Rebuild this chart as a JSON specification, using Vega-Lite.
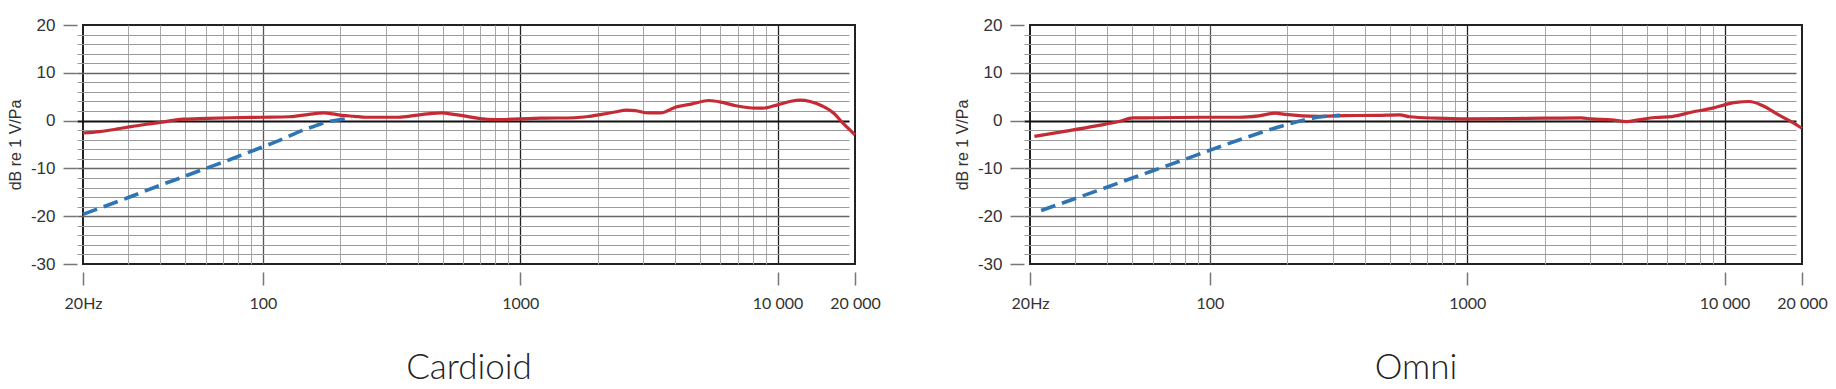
{
  "$schema": "https://vega.github.io/schema/vega-lite/v6.json",
  "background": "white",
  "padding": {"left": 6, "top": 15, "right": 5, "bottom": 0},
  "spacing": 175,
  "bounds": "flush",
  "data": {"values": [
    {"p": "C", "s": "r", "f": 20, "db": -2.6},
    {"p": "C", "s": "r", "f": 23.2, "db": -2.3},
    {"p": "C", "s": "r", "f": 26.9, "db": -1.8},
    {"p": "C", "s": "r", "f": 31.2, "db": -1.2},
    {"p": "C", "s": "r", "f": 36.2, "db": -0.7},
    {"p": "C", "s": "r", "f": 41.9, "db": -0.2},
    {"p": "C", "s": "r", "f": 48.9, "db": 0.3},
    {"p": "C", "s": "r", "f": 56.5, "db": 0.4},
    {"p": "C", "s": "r", "f": 75.6, "db": 0.6},
    {"p": "C", "s": "r", "f": 100, "db": 0.7},
    {"p": "C", "s": "r", "f": 126.6, "db": 0.8},
    {"p": "C", "s": "r", "f": 151, "db": 1.3},
    {"p": "C", "s": "r", "f": 173, "db": 1.6},
    {"p": "C", "s": "r", "f": 187, "db": 1.4},
    {"p": "C", "s": "r", "f": 203, "db": 1.1},
    {"p": "C", "s": "r", "f": 227, "db": 0.9},
    {"p": "C", "s": "r", "f": 250, "db": 0.7},
    {"p": "C", "s": "r", "f": 290, "db": 0.7},
    {"p": "C", "s": "r", "f": 337, "db": 0.7},
    {"p": "C", "s": "r", "f": 392, "db": 1.1},
    {"p": "C", "s": "r", "f": 455, "db": 1.5},
    {"p": "C", "s": "r", "f": 497, "db": 1.6},
    {"p": "C", "s": "r", "f": 551, "db": 1.3},
    {"p": "C", "s": "r", "f": 621, "db": 0.9},
    {"p": "C", "s": "r", "f": 701, "db": 0.4},
    {"p": "C", "s": "r", "f": 791, "db": 0.2},
    {"p": "C", "s": "r", "f": 1000, "db": 0.35},
    {"p": "C", "s": "r", "f": 1205, "db": 0.5},
    {"p": "C", "s": "r", "f": 1628, "db": 0.6},
    {"p": "C", "s": "r", "f": 1836, "db": 0.85},
    {"p": "C", "s": "r", "f": 2071, "db": 1.3},
    {"p": "C", "s": "r", "f": 2335, "db": 1.8},
    {"p": "C", "s": "r", "f": 2595, "db": 2.2},
    {"p": "C", "s": "r", "f": 2795, "db": 2.1},
    {"p": "C", "s": "r", "f": 3153, "db": 1.6},
    {"p": "C", "s": "r", "f": 3501, "db": 1.6},
    {"p": "C", "s": "r", "f": 4013, "db": 2.8},
    {"p": "C", "s": "r", "f": 4659, "db": 3.5},
    {"p": "C", "s": "r", "f": 5418, "db": 4.2},
    {"p": "C", "s": "r", "f": 6112, "db": 3.8},
    {"p": "C", "s": "r", "f": 6892, "db": 3.1},
    {"p": "C", "s": "r", "f": 8260, "db": 2.6},
    {"p": "C", "s": "r", "f": 8771, "db": 2.6},
    {"p": "C", "s": "r", "f": 10000, "db": 3.3},
    {"p": "C", "s": "r", "f": 11170, "db": 4.0},
    {"p": "C", "s": "r", "f": 12230, "db": 4.3},
    {"p": "C", "s": "r", "f": 13390, "db": 4.0},
    {"p": "C", "s": "r", "f": 15000, "db": 3.0},
    {"p": "C", "s": "r", "f": 16500, "db": 1.6},
    {"p": "C", "s": "r", "f": 18000, "db": -0.6},
    {"p": "C", "s": "r", "f": 20000, "db": -3.0},
    {"p": "C", "s": "p", "f": 20, "db": -19.6},
    {"p": "C", "s": "p", "f": 30, "db": -16.1},
    {"p": "C", "s": "p", "f": 40, "db": -13.5},
    {"p": "C", "s": "p", "f": 50, "db": -11.6},
    {"p": "C", "s": "p", "f": 60, "db": -10.0},
    {"p": "C", "s": "p", "f": 70, "db": -8.7},
    {"p": "C", "s": "p", "f": 80, "db": -7.5},
    {"p": "C", "s": "p", "f": 100, "db": -5.5},
    {"p": "C", "s": "p", "f": 120, "db": -3.8},
    {"p": "C", "s": "p", "f": 140, "db": -2.2},
    {"p": "C", "s": "p", "f": 160, "db": -1.1},
    {"p": "C", "s": "p", "f": 180, "db": -0.2},
    {"p": "C", "s": "p", "f": 200, "db": 0.2},
    {"p": "C", "s": "p", "f": 222, "db": 0.5},
    {"p": "O", "s": "r", "f": 20.8, "db": -3.3},
    {"p": "O", "s": "r", "f": 27.6, "db": -2.2},
    {"p": "O", "s": "r", "f": 36.2, "db": -1.1},
    {"p": "O", "s": "r", "f": 44.3, "db": -0.2},
    {"p": "O", "s": "r", "f": 50.2, "db": 0.55},
    {"p": "O", "s": "r", "f": 59.9, "db": 0.6},
    {"p": "O", "s": "r", "f": 100, "db": 0.7},
    {"p": "O", "s": "r", "f": 129.6, "db": 0.7},
    {"p": "O", "s": "r", "f": 155, "db": 1.0},
    {"p": "O", "s": "r", "f": 179.5, "db": 1.55},
    {"p": "O", "s": "r", "f": 196, "db": 1.3},
    {"p": "O", "s": "r", "f": 228, "db": 1.0},
    {"p": "O", "s": "r", "f": 264, "db": 0.9},
    {"p": "O", "s": "r", "f": 334, "db": 1.05},
    {"p": "O", "s": "r", "f": 450, "db": 1.1},
    {"p": "O", "s": "r", "f": 546, "db": 1.2},
    {"p": "O", "s": "r", "f": 598, "db": 0.8},
    {"p": "O", "s": "r", "f": 760, "db": 0.5},
    {"p": "O", "s": "r", "f": 1000, "db": 0.35},
    {"p": "O", "s": "r", "f": 1474, "db": 0.4},
    {"p": "O", "s": "r", "f": 1992, "db": 0.5},
    {"p": "O", "s": "r", "f": 2774, "db": 0.55},
    {"p": "O", "s": "r", "f": 3035, "db": 0.35},
    {"p": "O", "s": "r", "f": 3639, "db": 0.15},
    {"p": "O", "s": "r", "f": 4161, "db": -0.2},
    {"p": "O", "s": "r", "f": 4619, "db": 0.15},
    {"p": "O", "s": "r", "f": 5371, "db": 0.65},
    {"p": "O", "s": "r", "f": 6245, "db": 0.85},
    {"p": "O", "s": "r", "f": 7490, "db": 1.8},
    {"p": "O", "s": "r", "f": 8972, "db": 2.6},
    {"p": "O", "s": "r", "f": 10000, "db": 3.3},
    {"p": "O", "s": "r", "f": 11080, "db": 3.8},
    {"p": "O", "s": "r", "f": 12490, "db": 4.0},
    {"p": "O", "s": "r", "f": 14100, "db": 3.1},
    {"p": "O", "s": "r", "f": 16350, "db": 1.1},
    {"p": "O", "s": "r", "f": 18430, "db": -0.4},
    {"p": "O", "s": "r", "f": 20000, "db": -1.6},
    {"p": "O", "s": "p", "f": 22.1, "db": -18.8},
    {"p": "O", "s": "p", "f": 30, "db": -16.3},
    {"p": "O", "s": "p", "f": 40, "db": -13.9},
    {"p": "O", "s": "p", "f": 50, "db": -12.0},
    {"p": "O", "s": "p", "f": 60, "db": -10.5},
    {"p": "O", "s": "p", "f": 70, "db": -9.2},
    {"p": "O", "s": "p", "f": 80, "db": -8.1},
    {"p": "O", "s": "p", "f": 100, "db": -6.2},
    {"p": "O", "s": "p", "f": 150, "db": -2.9},
    {"p": "O", "s": "p", "f": 200, "db": -0.8},
    {"p": "O", "s": "p", "f": 250, "db": 0.5},
    {"p": "O", "s": "p", "f": 300, "db": 1.0},
    {"p": "O", "s": "p", "f": 321, "db": 1.1}
  ]},
  "hconcat": [
    {
      "width": 772, "height": 239,
      "transform": [{"filter": "datum.p === 'C'"}],
      "title": {"text": "Cardioid", "orient": "bottom", "anchor": "middle", "frame": "group", "font": "Lato", "fontWeight": 300, "fontSize": 35, "color": "#222", "offset": 40},
      "resolve": {"axis": {"x": "independent"}},
      "encoding": {
        "y": {"field": "db", "type": "quantitative",
          "scale": {"domain": [-30, 20], "nice": false, "zero": false},
          "axis": {
            "title": "dB re 1 V/Pa",
            "values": [-30,-28,-26,-24,-22,-20,-18,-16,-14,-12,-10,-8,-6,-4,-2,0,2,4,6,8,10,12,14,16,18,20],
            "labelExpr": "datum.value % 10 === 0 ? '' + datum.value : ''",
            "grid": true,
            "gridColor": {"condition": [
              {"test": "datum.value === 0", "value": "#111111"},
              {"test": "datum.value === 20 || datum.value === -30", "value": "transparent"},
              {"test": "datum.value % 10 === 0", "value": "#666666"}
            ], "value": "#9a9a9a"},
            "gridWidth": {"condition": [
              {"test": "datum.value === 0", "value": 2},
              {"test": "datum.value % 10 === 0", "value": 1.5}
            ], "value": 1},
            "tickColor": {"condition": {"test": "datum.value % 10 === 0", "value": "#777777"}, "value": "transparent"}
          }
        }
      },
      "layer": [
        {"transform": [{"filter": "datum.s === 'r'"}],
         "mark": {"type": "line", "color": "#c42b35", "strokeWidth": 3.2, "interpolate": "monotone"},
         "encoding": {"x": {"field": "f", "type": "quantitative",
           "scale": {"type": "log", "domain": [20, 20000], "nice": false},
           "axis": {
             "orient": "bottom", "title": null, "grid": false, "ticks": true, "tickColor": "#777777", "tickWidth": 1.5,
             "values": [20, 100, 1000, 10000, 20000],
             "labelExpr": "datum.value === 20 ? '20Hz' : datum.value === 100 ? '100' : datum.value === 1000 ? '1000' : datum.value === 10000 ? '10 000' : '20 000'"
           }}}},
        {"transform": [{"filter": "datum.s === 'p'"}],
         "mark": {"type": "line", "color": "#2f75b5", "strokeWidth": 3.6, "strokeDash": [15, 7], "interpolate": "monotone"},
         "encoding": {"x": {"field": "f", "type": "quantitative",
           "scale": {"type": "log", "domain": [20, 20000], "nice": false},
           "axis": {
             "orient": "top", "offset": 0, "title": null, "labels": false, "ticks": false, "grid": true,
             "values": [20,30,40,50,60,70,80,90,100,200,300,400,500,600,700,800,900,1000,2000,3000,4000,5000,6000,7000,8000,9000,10000,20000],
             "gridColor": {"condition": [
               {"test": "datum.value === 100", "value": "#555555"},
               {"test": "datum.value === 20 || datum.value === 20000", "value": "transparent"},
               {"test": "datum.value === 1000 || datum.value === 10000", "value": "#222222"}
             ], "value": "#a8a8a8"},
             "gridWidth": {"condition": {"test": "datum.value === 100 || datum.value === 1000 || datum.value === 10000", "value": 1.3}, "value": 1}
           }}}}
      ]
    },
    {
      "width": 772, "height": 239,
      "transform": [{"filter": "datum.p === 'O'"}],
      "title": {"text": "Omni", "orient": "bottom", "anchor": "middle", "frame": "group", "font": "Lato", "fontWeight": 300, "fontSize": 35, "color": "#222", "offset": 40},
      "resolve": {"axis": {"x": "independent"}},
      "encoding": {
        "y": {"field": "db", "type": "quantitative",
          "scale": {"domain": [-30, 20], "nice": false, "zero": false},
          "axis": {
            "title": "dB re 1 V/Pa",
            "values": [-30,-28,-26,-24,-22,-20,-18,-16,-14,-12,-10,-8,-6,-4,-2,0,2,4,6,8,10,12,14,16,18,20],
            "labelExpr": "datum.value % 10 === 0 ? '' + datum.value : ''",
            "grid": true,
            "gridColor": {"condition": [
              {"test": "datum.value === 0", "value": "#111111"},
              {"test": "datum.value === 20 || datum.value === -30", "value": "transparent"},
              {"test": "datum.value % 10 === 0", "value": "#666666"}
            ], "value": "#9a9a9a"},
            "gridWidth": {"condition": [
              {"test": "datum.value === 0", "value": 2},
              {"test": "datum.value % 10 === 0", "value": 1.5}
            ], "value": 1},
            "tickColor": {"condition": {"test": "datum.value % 10 === 0", "value": "#777777"}, "value": "transparent"}
          }
        }
      },
      "layer": [
        {"transform": [{"filter": "datum.s === 'r'"}],
         "mark": {"type": "line", "color": "#c42b35", "strokeWidth": 3.2, "interpolate": "monotone"},
         "encoding": {"x": {"field": "f", "type": "quantitative",
           "scale": {"type": "log", "domain": [20, 20000], "nice": false},
           "axis": {
             "orient": "bottom", "title": null, "grid": false, "ticks": true, "tickColor": "#777777", "tickWidth": 1.5,
             "values": [20, 100, 1000, 10000, 20000],
             "labelExpr": "datum.value === 20 ? '20Hz' : datum.value === 100 ? '100' : datum.value === 1000 ? '1000' : datum.value === 10000 ? '10 000' : '20 000'"
           }}}},
        {"transform": [{"filter": "datum.s === 'p'"}],
         "mark": {"type": "line", "color": "#2f75b5", "strokeWidth": 3.6, "strokeDash": [15, 7], "interpolate": "monotone"},
         "encoding": {"x": {"field": "f", "type": "quantitative",
           "scale": {"type": "log", "domain": [20, 20000], "nice": false},
           "axis": {
             "orient": "top", "offset": 0, "title": null, "labels": false, "ticks": false, "grid": true,
             "values": [20,30,40,50,60,70,80,90,100,200,300,400,500,600,700,800,900,1000,2000,3000,4000,5000,6000,7000,8000,9000,10000,20000],
             "gridColor": {"condition": [
               {"test": "datum.value === 100", "value": "#555555"},
               {"test": "datum.value === 20 || datum.value === 20000", "value": "transparent"},
               {"test": "datum.value === 1000 || datum.value === 10000", "value": "#222222"}
             ], "value": "#a8a8a8"},
             "gridWidth": {"condition": {"test": "datum.value === 100 || datum.value === 1000 || datum.value === 10000", "value": 1.3}, "value": 1}
           }}}}
      ]
    }
  ],
  "config": {
    "view": {"stroke": "#222222", "strokeWidth": 2},
    "axis": {"domain": false, "labelOverlap": false, "labelBound": false, "labelFlush": false, "labelColor": "#333333", "titleColor": "#333333"},
    "axisX": {"offset": 8, "tickSize": 13, "labelPadding": 10, "labelFont": "Lato", "labelFontSize": 16},
    "axisY": {"offset": 6, "tickSize": 14, "tickWidth": 1.5, "labelPadding": 8, "labelFont": "Liberation Sans", "labelFontSize": 17, "titleFont": "Liberation Sans", "titleFontSize": 16, "titleFontWeight": "normal", "titlePadding": 7}
  }
}
